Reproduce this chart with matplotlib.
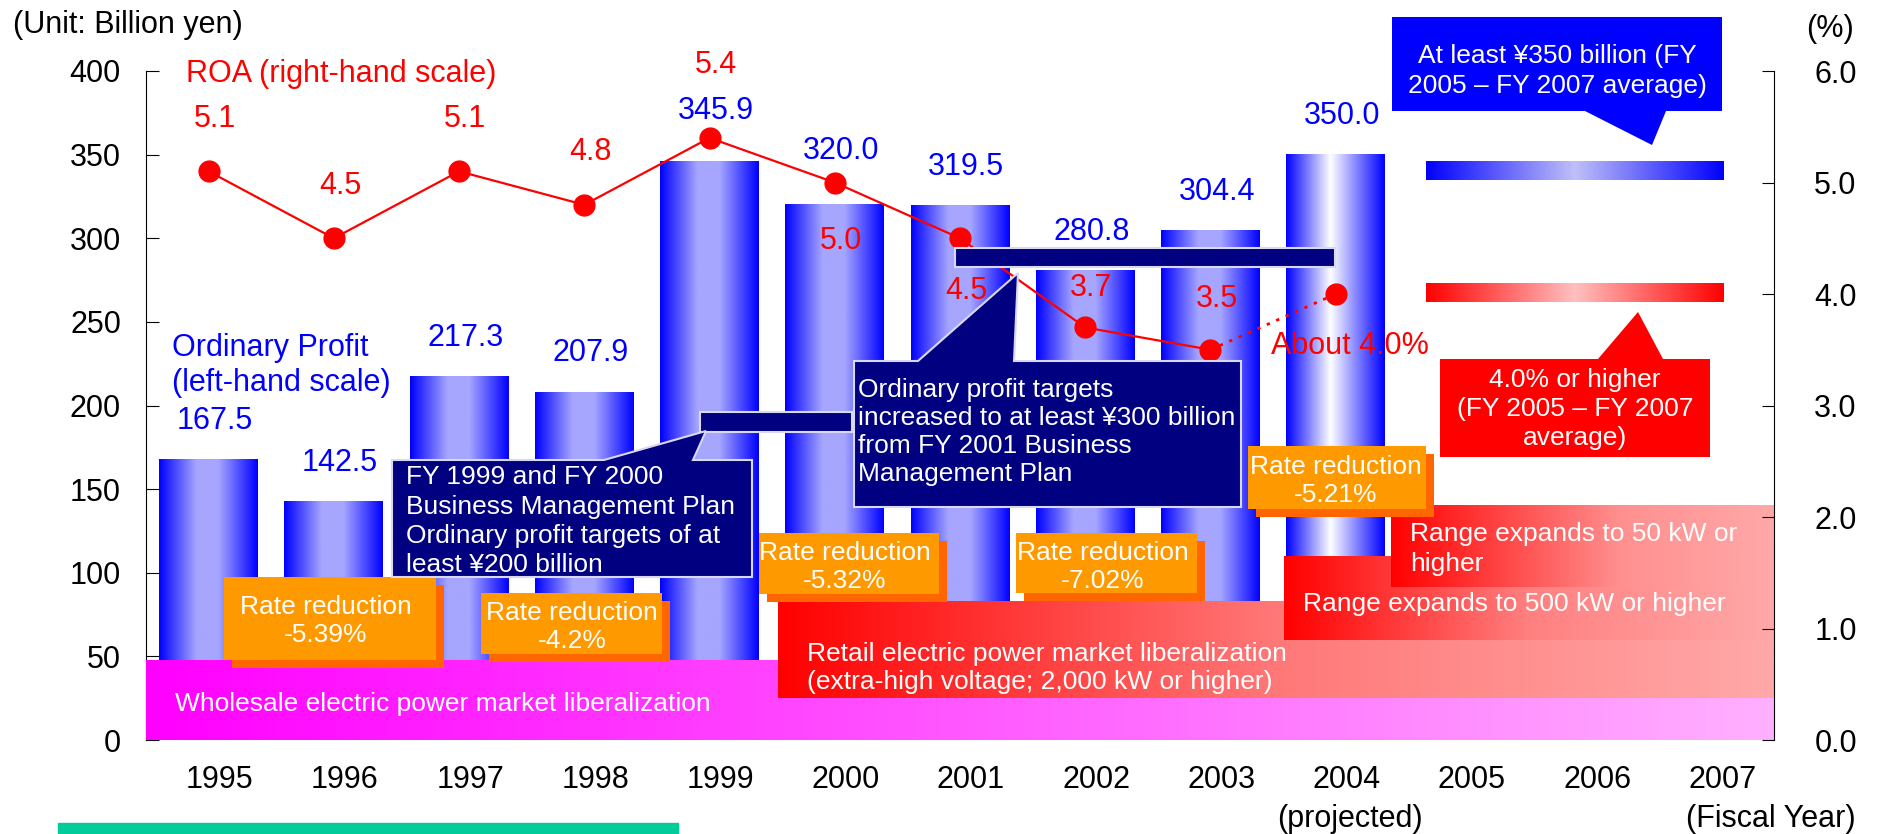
import numpy as np
import matplotlib
matplotlib.use('Agg')
import matplotlib.pyplot as plt
from matplotlib.colors import LinearSegmentedColormap
from matplotlib.patches import Polygon, Rectangle
from matplotlib.ticker import FormatStrFormatter
from matplotlib.transforms import ScaledTranslation

plt.rcParams['font.family'] = ['Liberation Sans', 'DejaVu Sans']

# ---- data ----
years = ['1995', '1996', '1997', '1998', '1999', '2000', '2001',
         '2002', '2003', '2004', '2005', '2006', '2007']
profit = [167.5, 142.5, 217.3, 207.9, 345.9, 320.0, 319.5, 280.8, 304.4, 350.0]
roa = [5.1, 4.5, 5.1, 4.8, 5.4, 5.0, 4.5, 3.7, 3.5, 4.0]
rate_cuts = ['-5.39%', '-4.2%', '-5.32%', '-7.02%', '-5.21%']

# label offsets (left units for profit, % for ROA)
profit_off = [25, 25, 25, 25, 32, 34, 25, 25, 25, 25]
roa_off = [0.5, 0.5, 0.5, 0.5, 0.68, -0.5, -0.45, 0.38, 0.48]

# ---- layout in reference pixels ----
W, H = 1881, 834
L, R, T, B = 146, 1774, 71, 740

fig = plt.figure(figsize=(W / 100, H / 100), dpi=100)
ax = fig.add_axes([L / W, 1 - B / H, (R - L) / W, (B - T) / H])
ax2 = ax.twinx()


def P(xp, yp):
    # reference pixel -> left-axis data coords
    return (xp - L) / (R - L) * 13 - 0.5, (B - yp) / (B - T) * 400


def label(axis, x, y, s, size, **kw):
    # y is the visual centre of the capitals
    tr = axis.transData + ScaledTranslation(0, -0.36 * size / 72, fig.dpi_scale_trans)
    axis.text(x, y, s, fontsize=size, va='baseline', transform=tr, **kw)


def ptext(xp, yp, s, size=19, color='white', ha='left', **kw):
    label(ax, *P(xp, yp), s, size, color=color, ha=ha, zorder=10, **kw)


def grad_img(stops):
    cmap = LinearSegmentedColormap.from_list('g', stops)
    return cmap(np.linspace(0, 1, 256))[None, :, :]


def gbox(x0, y0, x1, y1, stops, z):
    a, b = P(x0, y1)
    c, d = P(x1, y0)
    ax.imshow(grad_img(stops), extent=(a, c, b, d), aspect='auto',
              interpolation='bilinear', zorder=z)


def poly(pts, fc, ec='none', z=7):
    ax.add_patch(Polygon([P(*p) for p in pts], closed=True, fc=fc, ec=ec,
                         lw=1.5, zorder=z, clip_on=False))


def rect(x0, y0, x1, y1, fc, ec='none', z=7):
    poly([(x0, y0), (x1, y0), (x1, y1), (x0, y1)], fc, ec, z)


# ---- bars with gradient fill ----
bar_stops = [(0, '#0000ff'), (0.38, '#a6a6ff'), (0.6, '#a6a6ff'), (1, '#0000ff')]
proj_stops = [(0, '#0000ff'), (0.45, '#ffffff'), (1, '#0000ff')]
rects = ax.bar(range(len(profit)), profit, width=0.79, color='none')
for i, r in enumerate(rects):
    x0, w, h = r.get_x(), r.get_width(), r.get_height()
    ax.imshow(grad_img(proj_stops if i == len(profit) - 1 else bar_stops),
              extent=(x0, x0 + w, 0, h), aspect='auto',
              interpolation='bilinear', zorder=2)
for i, v in enumerate(profit):
    label(ax, i + 0.05, v + profit_off[i], f'{v:.1f}', 22,
          color='#0000ff', ha='center', zorder=10)

# ---- liberalization bands ----
gbox(146, 661, 1774, 743, [(0, '#ff00ff'), (1, '#ffb0ff')], 3)
gbox(778, 602, 1774, 698, [(0, '#ff0000'), (0.5, '#ff7878'), (1, '#ffa8a8')], 3.1)
gbox(1284, 557, 1774, 640, [(0, '#ff0000'), (0.5, '#ff8080'), (1, '#ffa8a8')], 3.2)
gbox(1391, 505, 1774, 587, [(0, '#ff0000'), (0.6, '#ff9090'), (1, '#ffa8a8')], 3.3)

# target bands 2005-2007
gbox(1426, 161, 1723, 180, [(0, '#0000ff'), (0.5, '#c0c0f8'), (1, '#0000ff')], 3)
gbox(1426, 283, 1723, 302, [(0, '#ff0000'), (0.5, '#ffc0c0'), (1, '#ff0000')], 3)

# ---- ROA line (right scale) ----
n = len(roa) - 1
ax.plot(range(n), roa[:n], color='#ff0000', lw=1.6, marker='o', ms=15,
        transform=ax2.transData, zorder=5)
ax.plot([n - 1, n], roa[n - 1:], color='#ff0000', lw=2, ls=(0, (1.2, 2.5)),
        transform=ax2.transData, zorder=5)
ax.plot([n], roa[n:], 'o', color='#ff0000', ms=15, transform=ax2.transData, zorder=5)
for i in range(n):
    label(ax2, i + 0.05, roa[i] + roa_off[i], f'{roa[i]:.1f}', 22,
          color='#ff0000', ha='center')

# ---- rate reduction boxes ----
rate_boxes = [(224, 577, 436, 660), (481, 593, 662, 654), (759, 533, 939, 594),
              (1016, 533, 1197, 593), (1248, 446, 1426, 509)]
rate_text = [(326, 604, 632), (572, 610, 638), (845, 550, 579),
             (1103, 550, 579), (1336, 465, 492)]
for (x0, y0, x1, y1), (cx, ya, yb), cut in zip(rate_boxes, rate_text, rate_cuts):
    rect(x0 + 8, y0 + 8, x1 + 8, y1 + 8, '#ff6600', z=6)
    rect(x0, y0, x1, y1, '#ff9900', z=6.1)
    ptext(cx, ya, 'Rate reduction', ha='center')
    ptext(cx, yb, cut, ha='center')

# ---- business plan targets (navy) ----
navy, rim = '#000080', '#d8d8f0'
rect(700, 412, 852, 432, navy, rim)
rect(955, 248, 1335, 267, navy, rim)
poly([(392, 577), (392, 460), (604, 460), (706, 431), (693, 460),
      (752, 460), (752, 577)], navy, rim)
poly([(854, 507), (854, 361), (918, 361), (1018, 273), (1014, 361),
      (1241, 361), (1241, 507)], navy, rim)
for k, s in enumerate(['FY 1999 and FY 2000', 'Business Management Plan',
                       'Ordinary profit targets of at', 'least ¥200 billion']):
    ptext(406, 475 + 29.3 * k, s)
for k, s in enumerate(['Ordinary profit targets', 'increased to at least ¥300 billion',
                       'from FY 2001 Business', 'Management Plan']):
    ptext(858, 387 + 28.3 * k, s)

# ---- 2005-2007 target callouts ----
poly([(1392, 17), (1722, 17), (1722, 111), (1666, 111), (1652, 145),
      (1585, 111), (1392, 111)], '#0000ff')
ptext(1557, 54, 'At least ¥350 billion (FY', ha='center')
ptext(1557, 83, '2005 – FY 2007 average)', ha='center')
poly([(1440, 457), (1440, 359), (1598, 359), (1638, 312), (1663, 359),
      (1710, 359), (1710, 457)], '#ff0000')
for k, s in enumerate(['4.0% or higher', '(FY 2005 – FY 2007', 'average)']):
    ptext(1575, 378 + 28.5 * k, s, ha='center')

# ---- band texts ----
ptext(175, 702, 'Wholesale electric power market liberalization')
ptext(807, 651, 'Retail electric power market liberalization')
ptext(807, 680, '(extra-high voltage; 2,000 kW or higher)')
ptext(1303, 601, 'Range expands to 500 kW or higher')
ptext(1410, 532, 'Range expands to 50 kW or')
ptext(1410, 561, 'higher')

# ---- other texts ----
ptext(13, 22, '(Unit: Billion yen)', 22, 'black')
ptext(1830, 26, '(%)', 22, 'black', ha='center')
ptext(186, 71, 'ROA (right-hand scale)', 22, '#ff0000')
ptext(172, 345, 'Ordinary Profit', 22, '#0000ff')
ptext(172, 380, '(left-hand scale)', 22, '#0000ff')
ptext(1271, 343, 'About 4.0%', 22, '#ff0000')
ptext(1350, 816, '(projected)', 22, 'black', ha='center')
ptext(1686, 816, '(Fiscal Year)', 22, 'black')

fig.add_artist(Rectangle((58 / W, 0), 620 / W, 11 / H, transform=fig.transFigure,
                         color='#00cc99'))

# ---- axes ----
ax.set_xlim(-0.5, 12.5)
ax.set_ylim(0, 400)
ax.set_yticks(range(0, 401, 50))
ax.set_xticks(range(len(years)), years)
ax.tick_params(axis='y', direction='in', length=9, pad=18, labelsize=22)
ax.tick_params(axis='x', length=0, pad=18, labelsize=22)
shift = ScaledTranslation(0.11, 0, fig.dpi_scale_trans)
for lab in ax.get_xticklabels():
    lab.set_transform(lab.get_transform() + shift)

ax2.set_ylim(0, 6)
ax2.set_yticks(range(7))
ax2.yaxis.set_major_formatter(FormatStrFormatter('%.1f'))
ax2.tick_params(axis='y', direction='in', length=9, pad=29, labelsize=22)

for s in ['top', 'bottom', 'right']:
    ax.spines[s].set_visible(False)
for s in ['top', 'bottom', 'left']:
    ax2.spines[s].set_visible(False)

fig.savefig('out.png', dpi=100)
